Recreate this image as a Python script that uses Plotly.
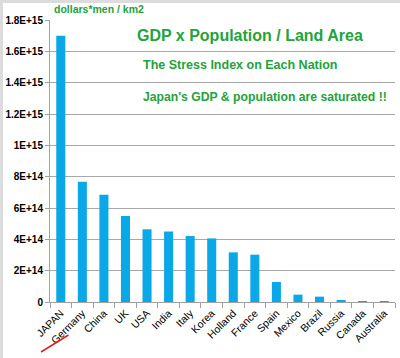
import plotly.graph_objects as go

countries = ["JAPAN", "Germany", "China", "UK", "USA", "India", "Italy", "Korea",
             "Holland", "France", "Spain", "Mexico", "Brazil", "Russia", "Canada", "Australia"]
stress_index = [1.70e15, 7.68e14, 6.85e14, 5.49e14, 4.64e14, 4.50e14, 4.21e14, 4.06e14,
                3.17e14, 3.02e14, 1.28e14, 0.47e14, 0.34e14, 0.11e14, 0.05e14, 0.06e14]
y_tickvals = [0, 2e14, 4e14, 6e14, 8e14, 1e15, 1.2e15, 1.4e15, 1.6e15, 1.8e15]
y_ticktext = ["0", "2E+14", "4E+14", "6E+14", "8E+14", "1E+15", "1.2E+15", "1.4E+15", "1.6E+15", "1.8E+15"]

W, H = 400, 358
L, R, T, B = 50, 5, 20, 56
pw, ph = W - L - R, H - T - B

def px(x):
    return (x - L) / pw

def py(y):
    return (H - B - y) / ph

green = "#22a33c"

fig = go.Figure(go.Bar(x=countries, y=stress_index, marker_color="#0aa8e6",
                       marker_line_width=0))

fig.update_layout(
    width=W, height=H,
    margin=dict(l=L, r=R, t=T, b=B, autoexpand=False),
    paper_bgcolor="white", plot_bgcolor="white",
    bargap=0.58,
    showlegend=False,
    font=dict(family="Liberation Sans, Arial, sans-serif", color="black"),
    xaxis=dict(
        tickangle=-45, tickfont=dict(size=10.5, color="black"),
        showline=True, linecolor="#a0a0a0", linewidth=1,
        ticks="outside", tickson="boundaries", ticklen=5, tickcolor="#a0a0a0",
        showgrid=False, automargin=False,
    ),
    yaxis=dict(
        range=[0, 1.8e15], tickvals=y_tickvals, ticktext=y_ticktext,
        tickfont=dict(size=10, color="black", family="Liberation Sans, Arial, sans-serif", weight="bold"),
        showline=True, linecolor="#a0a0a0", linewidth=1,
        ticks="outside", ticklen=4, tickcolor="#a0a0a0",
        showgrid=True, gridcolor="#a8a8a8", gridwidth=1,
        zeroline=False, automargin=False,
    ),
)

annos = [
    dict(text="<b>dollars*men / km2</b>", x=px(52), y=py(9), xanchor="left", size=10.5),
    dict(text="<b>GDP x Population / Land Area</b>", x=px(249.5), y=py(36), xanchor="center", size=16),
    dict(text="<b>The Stress Index on Each Nation</b>", x=px(240), y=py(64.5), xanchor="center", size=12.5),
    dict(text="<b>Japan's GDP &amp; population are saturated !!</b>", x=px(264.5), y=py(97), xanchor="center", size=12.2),
]
for a in annos:
    fig.add_annotation(text=a["text"], x=a["x"], y=a["y"], xref="paper", yref="paper",
                       xanchor=a["xanchor"], yanchor="middle", showarrow=False,
                       font=dict(size=a["size"], color=green, family="Liberation Sans, Arial, sans-serif"))

# red underline under JAPAN
fig.add_shape(type="line", xref="paper", yref="paper",
              x0=px(41), y0=py(352), x1=px(68.5), y1=py(335),
              line=dict(color="#e02020", width=1.5))
# light gray frame strips (top, left)
fig.add_shape(type="rect", xref="paper", yref="paper", x0=px(0), x1=px(W), y0=py(3), y1=py(0),
              fillcolor="#dcdcdc", line_width=0, layer="above")
fig.add_shape(type="rect", xref="paper", yref="paper", x0=px(0), x1=px(3), y0=py(H), y1=py(0),
              fillcolor="#dcdcdc", line_width=0, layer="above")

fig.write_html("out.html", config={"displayModeBar": False},
               post_script="document.body.style.margin='0';document.body.style.overflow='hidden';")
